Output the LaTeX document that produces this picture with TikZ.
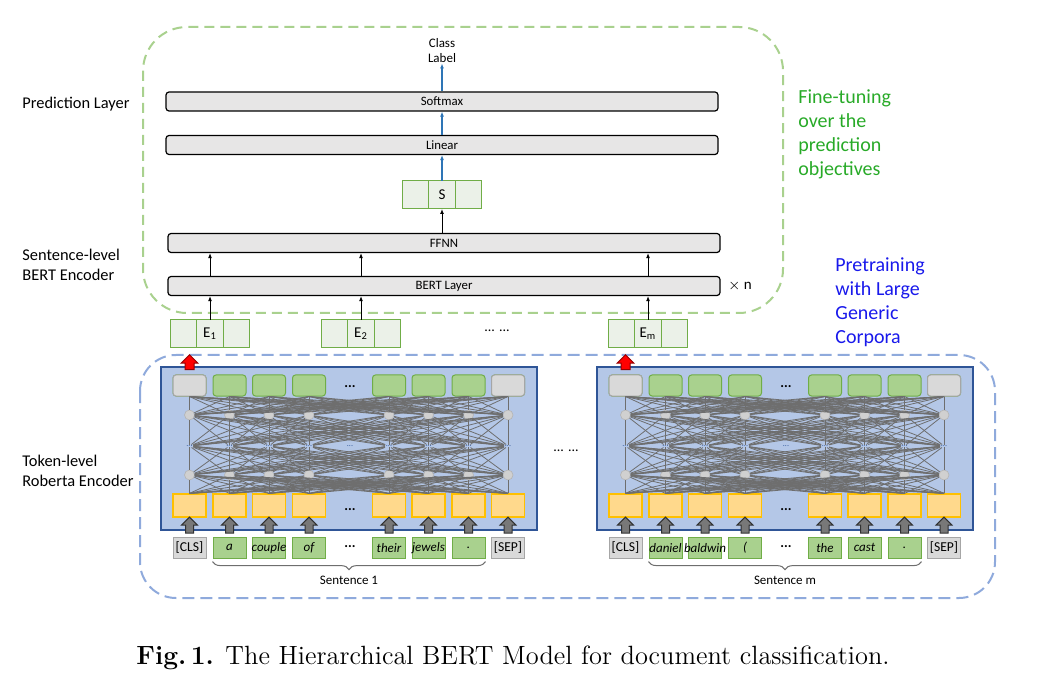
\documentclass[tikz,border=0pt]{standalone}
\usepackage{fontspec}
\setsansfont{Carlito}
\usetikzlibrary{positioning,shapes.arrows,decorations.pathreplacing,arrows.meta}

\definecolor{fineGreen}{RGB}{169,209,142}
\definecolor{preBlue}{RGB}{143,170,220}
\definecolor{txtGreen}{RGB}{40,170,40}
\definecolor{txtBlue}{RGB}{25,25,235}
\definecolor{boxGray}{RGB}{231,230,230}
\definecolor{arrBlue}{RGB}{46,117,182}
\definecolor{cellGreen}{RGB}{112,173,71}
\definecolor{cellFill}{RGB}{235,241,232}
\definecolor{panelFill}{RGB}{180,199,231}
\definecolor{panelLine}{RGB}{47,85,151}
\definecolor{tokGreen}{RGB}{169,209,142}
\definecolor{tokGray}{RGB}{217,217,217}
\definecolor{tokGrayLine}{RGB}{166,166,166}
\definecolor{embFill}{RGB}{255,217,140}
\definecolor{embLine}{RGB}{255,192,0}
\definecolor{netGray}{RGB}{110,110,110}
\definecolor{unitFill}{RGB}{208,208,208}
\definecolor{unitLine}{RGB}{180,180,180}
\definecolor{arrGray}{RGB}{120,120,120}
\definecolor{arrGrayLine}{RGB}{50,50,50}
\definecolor{redLine}{RGB}{150,0,0}

\tikzset{
  lab/.style={font=\sffamily\fontsize{8.2}{10}\selectfont, align=left, anchor=west, inner sep=0pt},
  note/.style={font=\sffamily\fontsize{10}{12}\selectfont, align=left, anchor=west, inner sep=0pt},
  layerbox/.style={draw, fill=boxGray, line width=0.6pt, rounded corners=1.5pt, minimum width=276pt,
    minimum height=9.5pt, inner sep=0pt, font=\sffamily\fontsize{6.4}{7}\selectfont},
  cell/.style={draw=cellGreen, fill=cellFill, line width=0.5pt, minimum width=13.3pt, minimum height=14pt,
    inner sep=0pt, outer sep=0pt, font=\sffamily\fontsize{7.5}{8}\selectfont},
  arr/.style={-{Latex[length=2.5pt,width=2pt]}, line width=0.5pt},
  barr/.style={arr, draw=arrBlue, line width=0.7pt},
  panel/.style={draw=panelLine, fill=panelFill, line width=0.6pt, minimum width=188pt, minimum height=81.5pt, inner sep=0pt},
  outgray/.style={draw=tokGrayLine, fill=tokGray, rounded corners=1.5pt, minimum width=16.5pt, minimum height=10.5pt,
    inner sep=0pt, line width=0.5pt},
  outgreen/.style={outgray, draw=cellGreen, fill=tokGreen},
  unit/.style={circle, draw=unitLine, fill=unitFill, minimum size=5pt, inner sep=0pt, line width=0.3pt},
  emb/.style={draw=embLine, fill=embFill, minimum width=16.5pt, minimum height=11.5pt, inner sep=0pt, line width=0.6pt},
  tokgray/.style={draw=tokGrayLine, fill=tokGray, minimum width=16.5pt, minimum height=10.5pt, inner sep=0pt,
    line width=0.5pt, font=\sffamily\fontsize{6.8}{7}\selectfont},
  tokword/.style={tokgray, draw=cellGreen, fill=tokGreen, font=\sffamily\itshape\fontsize{6.5}{7}\selectfont},
  net/.style={draw=netGray, line width=0.4pt},
  blockup/.style={single arrow, rotate=90, draw=arrGrayLine, fill=arrGray, minimum height=8pt,
    inner xsep=0pt, inner ysep=1.75pt, single arrow head extend=2pt, line width=0.5pt},
  dotrow/.style={font=\sffamily\fontsize{4}{4}\selectfont, inner sep=0.3pt, text=panelLine},
  bigdots/.style={font=\sffamily\bfseries\fontsize{7}{7}\selectfont, inner sep=0pt},
  fine/.style={draw=fineGreen, dash pattern=on 5pt off 3pt, line width=1pt, rounded corners=22pt},
  pre/.style={draw=preBlue, dash pattern=on 6pt off 3pt, line width=1pt, rounded corners=18pt},
  brace/.style={decorate, decoration={brace, mirror, amplitude=4pt}, draw=netGray, line width=0.5pt},
  small/.style={font=\sffamily\fontsize{6.5}{7.5}\selectfont, inner sep=0pt},
}

\begin{document}
\begin{tikzpicture}[x=0.5pt, y=-0.5pt]
\useasboundingbox (0,0) rectangle (1050,695);
% Regions
\draw[fine] (143,27) rectangle (783,313);
\draw[pre] (140,355) rectangle (995,598);
% Side labels
\node[lab] (predlab) at (22,104) {Prediction Layer};
\node[lab] (sentlab) at (22,265) {Sentence-level\\BERT Encoder};
\node[lab] (toklab) at (22,471) {Token-level\\Roberta Encoder};
\node[note, text=txtGreen] (finelab) at (798,134) {Fine-tuning\\over the\\prediction\\objectives};
\node[note, text=txtBlue] (prelab) at (835,302) {Pretraining\\with Large\\Generic\\Corpora};

% Prediction layer
\node[small, align=center] (cls) at (442,51) {Class\\Label};
\node[layerbox] (soft) at (442,101.5) {Softmax};
\node[layerbox] (lin) at (442,145) {Linear};
\node[cell] (S) at (442,195) {S};
\node[cell, left=0pt of S] (Sl) {};
\node[cell, right=0pt of S] (Sr) {};
\draw[barr] (S.north) -- (lin.south);
\draw[barr] (lin.north) -- (soft.south);
\draw[barr] (soft.north) -- (cls.south);

% Sentence-level encoder
\node[layerbox] (ffnn) at (444,243) {FFNN};
\node[layerbox] (bert) at (444,286) {BERT Layer};
\node[small, font=\sffamily\fontsize{7.5}{8}\selectfont, right=3.5pt of bert] (times) {$\times$ n};
\draw[arr] (ffnn.north -| S) -- (S.south);
\foreach \n/\x/\lab in {1/210/E\textsubscript{1}, 2/361/E\textsubscript{2}, m/648/E\textsubscript{m}} {
  \node[cell] (E\n) at (\x,334) {\lab};
  \node[cell, left=0pt of E\n] (E\n l) {};
  \node[cell, right=0pt of E\n] (E\n r) {};
  \draw[arr] (E\n.north) -- (bert.south -| E\n);
  \draw[arr] (bert.north -| E\n) -- (ffnn.south -| E\n);
}
\node[small, font=\sffamily\fontsize{7}{8}\selectfont] (edots) at (497,331) {... ...};
\node[small, font=\sffamily\fontsize{7}{8}\selectfont] (pdots) at (566,451) {... ...};

% Token-level encoders
\foreach \p/\ox/\words/\sent in {L/161/{a,couple,of,their,jewels,.}/1, R/597/{daniel,baldwin,{(},the,cast,.}/m} {
  \node[panel] (\p-panel) at (\ox+188,448.5) {};
  \foreach \i/\dx in {1/28.5, 2/68.5, 3/108, 4/148, 5/228, 6/267.5, 7/307.5, 8/347} {
    \node[outgreen] (\p-o\i) at (\ox+\dx,385.5) {};
    \node[unit] (\p-a\i) at (\ox+\dx,415) {};
    \node[dotrow] (\p-d\i) at (\ox+\dx,446) {...};
    \node[unit] (\p-b\i) at (\ox+\dx,475) {};
    \node[emb] (\p-e\i) at (\ox+\dx,505.5) {};
  }
  \node[outgray] at (\p-o1) {};
  \node[outgray] at (\p-o8) {};
  \node[dotrow] (\p-dm) at (\ox+189,446) {...};
  \node[bigdots] (\p-ot) at (\ox+189,387) {...};
  \node[bigdots] (\p-et) at (\ox+189,510) {...};
  % connections
  \foreach \i in {1,...,8} {
    \foreach \j in {1,...,8} {
      \draw[net] (\p-o\i.south) -- (\p-a\j);
      \draw[net] (\p-a\i) -- (\p-d\j);
      \draw[net] (\p-d\i) -- (\p-b\j);
      \draw[net] (\p-b\i) -- (\p-e\j.north);
    }
  }
  % tokens
  \node[tokgray, below=9.5pt of \p-e1] (\p-t1) {[CLS]};
  \foreach \w [count=\k from 2] in \words {
    \node[tokword, below=9.5pt of \p-e\k] (\p-t\k) {\makebox[0pt]{\w}};
  }
  \node[tokgray, below=9.5pt of \p-e8] (\p-t8) {[SEP]};
  \node[bigdots] (\p-tt) at (\ox+189,547) {...};
  \foreach \i in {1,...,8} {
    \path (\p-t\i.north) -- (\p-e\i.south) node[midway, blockup] (\p-g\i) {};
  }
  \node[blockup, fill=red, draw=redLine, minimum height=7.5pt, inner ysep=2pt] (\p-red) at (\ox+28.5,364.5) {};
  % sentence brace
  \draw[brace] ([yshift=-1.5pt]\p-t2.south west) -- ([yshift=-1.5pt]\p-t7.south east)
    coordinate[midway] (\p-mid);
  \node[small, below=7pt of \p-mid] (\p-sent) {Sentence \sent};
}

% Caption
\node[font=\rmfamily\fontsize{13.2}{15}\selectfont, inner sep=0pt] (cap) at (513,658)
  {\textbf{Fig.\,1.} The Hierarchical BERT Model for document classification.};
\end{tikzpicture}
\end{document}
